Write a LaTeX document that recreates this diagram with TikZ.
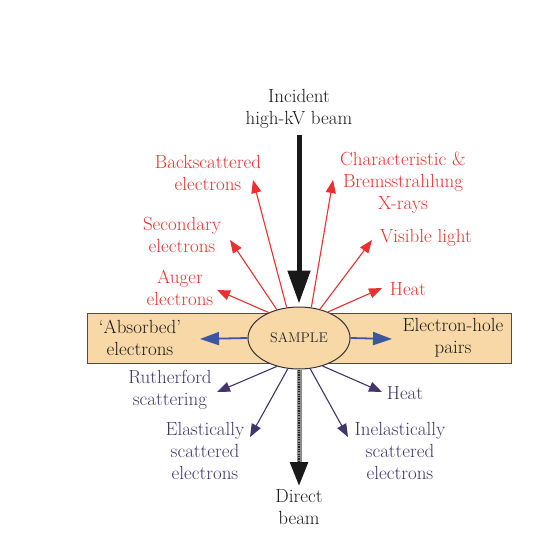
\documentclass[tikz,border=0pt]{standalone}
\usetikzlibrary{arrows.meta, shapes.geometric}
\definecolor{emred}{HTML}{EA3030}
\definecolor{tranpurple}{HTML}{41356C}
\definecolor{inblue}{HTML}{3A57A0}
\definecolor{sampletan}{HTML}{F8D8A6}
\tikzset{
  lbl/.style={align=center, inner sep=0pt, font=\fontsize{19}{22}\selectfont, text=black!90},
  emit/.style={draw=emred, line width=1.1pt, -{Triangle[length=13pt,width=10pt]}},
  trans/.style={draw=tranpurple, line width=1.1pt, -{Triangle[length=13pt,width=10pt]}},
  inside/.style={draw=inblue, line width=1.8pt, -{Triangle[length=19pt,width=13pt]}}
}
\begin{document}
\begin{tikzpicture}[x=1pt, y=-1pt]
\useasboundingbox (0,0) rectangle (553,551);
\node[draw=black!70, line width=1pt, fill=sampletan, minimum width=424pt, minimum height=50pt, inner sep=0pt] (band) at (299,338) {};
\node[ellipse, draw=black!80, line width=1pt, fill=sampletan, minimum width=102pt, minimum height=62pt, inner sep=0pt, font=\fontsize{14}{16}\selectfont, text=black!85] (sample) at (299,338) {SAMPLE};

% incident beam
\node[lbl] (incident) at (299,109) {Incident\\high-kV beam};
\draw[line width=5pt, black!90, -{Triangle[length=33pt,width=22pt]}, shorten <=6pt, shorten >=3pt] (incident.south) -- (sample.north);

% emitted above the sample
\node[lbl, text=emred] (back) at (208,173) {Backscattered\\electrons};
\node[lbl, text=emred] (char) at (403,183) {Characteristic \&\\Bremsstrahlung\\X-rays};
\node[lbl, text=emred] (sec) at (182,235) {Secondary\\electrons};
\node[lbl, text=emred] (vis) at (426,238) {Visible light};
\node[lbl, text=emred] (auger) at (180,288) {Auger\\electrons};
\node[lbl, text=emred] (heattop) at (408,289) {Heat};
\coordinate (tback) at (253,180);
\coordinate (tchar) at (333,180);
\coordinate (tsec) at (230,240);
\coordinate (tvis) at (372,240);
\coordinate (tauger) at (217,290);
\coordinate (theattop) at (382,288);
\draw[emit] (sample.112) -- (tback);
\draw[emit] (sample.68) -- (tchar);
\draw[emit] (sample.128) -- (tsec);
\draw[emit] (sample.54) -- (tvis);
\draw[emit] (sample.140) -- (tauger);
\draw[emit] (sample.42) -- (theattop);

% inside the sample
\node[lbl] (absorbed) at (140,338) {`Absorbed'\\electrons};
\node[lbl] (pairs) at (453,338) {Electron-hole\\pairs};
\coordinate (tabs) at (200,339);
\coordinate (tpairs) at (392,339);
\draw[inside] (sample.west) -- (tabs);
\draw[inside] (sample.east) -- (tpairs);

% transmitted below the sample
\node[lbl, text=tranpurple] (ruth) at (170,390) {Rutherford\\scattering};
\node[lbl, text=tranpurple] (heatbot) at (405,393) {Heat};
\node[lbl, text=tranpurple] (elas) at (205,451) {Elastically\\scattered\\electrons};
\node[lbl, text=tranpurple] (inel) at (400,451) {Inelastically\\scattered\\electrons};
\node[lbl] (direct) at (299,507) {Direct\\beam};
\coordinate (truth) at (217,392);
\coordinate (theatbot) at (382,392);
\coordinate (telas) at (250,437);
\coordinate (tinel) at (348,437);
\draw[trans] (sample.232) -- (truth);
\draw[trans] (sample.310) -- (theatbot);
\draw[trans] (sample.250) -- (telas);
\draw[trans] (sample.290) -- (tinel);
\draw[line width=5pt, black!45, -{Triangle[length=24pt,width=17pt,black!90]}, shorten >=3pt] (sample.south) -- (direct.north);
\draw[line width=1.5pt, black!85, dash pattern=on 1.2pt off 1.2pt, shorten >=27pt] (sample.south) -- (direct.north);
\end{tikzpicture}
\end{document}
